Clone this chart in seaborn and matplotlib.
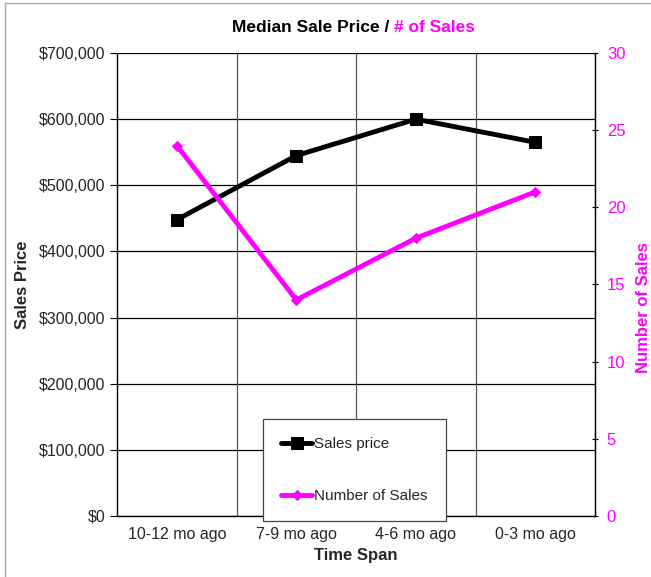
import pandas as pd
import matplotlib.pyplot as plt
import seaborn as sns
from matplotlib.patches import Rectangle

# Data
periods = ["10-12 mo ago", "7-9 mo ago", "4-6 mo ago", "0-3 mo ago"]
sales_price = [448000, 545000, 600000, 565000]
num_sales = [24, 14, 18, 21]
price_ticks = [0, 100000, 200000, 300000, 400000, 500000, 600000, 700000]
count_ticks = [0, 5, 10, 15, 20, 25, 30]

df = pd.DataFrame({"period": periods, "price": sales_price, "count": num_sales})
df["x"] = range(len(periods))

sns.set_style("white")
plt.rcParams["font.family"] = ["Liberation Sans", "DejaVu Sans"]

magenta = "#ff00ff"
fig = plt.figure(figsize=(6.51, 5.77), dpi=100)
ax = fig.add_axes([0.180, 0.106, 0.734, 0.802])

sns.lineplot(data=df, x="x", y="price", ax=ax, color="black", lw=3.5,
             marker="s", markersize=8, markeredgecolor="black",
             label="Sales price", legend=False)
ax.set_xlim(-0.5, 3.5)
ax.set_ylim(0, 700000)
ax.set_yticks(price_ticks)
ax.set_yticklabels([f"${v:,.0f}" for v in price_ticks], fontsize=11.5)
ax.set_xticks(df["x"])
ax.set_xticklabels(periods, fontsize=11.5)
ax.set_xticks([0.5, 1.5, 2.5], minor=True)
ax.tick_params(axis="x", which="major", length=0, pad=8)
ax.tick_params(axis="x", which="minor", length=5, color="black", direction="out")
ax.tick_params(axis="y", length=5, color="black", direction="out", left=True)
for v in price_ticks:
    ax.axhline(v, color="black", lw=0.9, zorder=0)
for v in [0.5, 1.5, 2.5]:
    ax.axvline(v, color="#555555", lw=0.9, zorder=0)
ax.set_xlabel("Time Span", fontsize=12, fontweight="bold", labelpad=4)
ax.set_ylabel("Sales Price", fontsize=12, fontweight="bold", labelpad=6)
for s in ax.spines.values():
    s.set_color("black")
    s.set_linewidth(1)
ax.spines["top"].set_visible(False)

ax2 = ax.twinx()
sns.lineplot(data=df, x="x", y="count", ax=ax2, color=magenta, lw=3.5,
             marker="D", markersize=5, markeredgecolor=magenta,
             label="Number of Sales", legend=False)
ax2.set_ylim(0, 30)
ax2.set_yticks(count_ticks)
ax2.set_yticklabels([str(v) for v in count_ticks], fontsize=12, color=magenta)
ax2.tick_params(axis="y", length=5, color="black", direction="inout", right=True, pad=6)
ax2.set_ylabel("Number of Sales", fontsize=12, fontweight="bold", color=magenta)
ax2.yaxis.set_label_coords(1.085, 0.45)
for s in ax2.spines.values():
    s.set_visible(False)
ax2.spines["right"].set_visible(True)
ax2.spines["right"].set_color("black")

h1, l1 = ax.get_legend_handles_labels()
h2, l2 = ax2.get_legend_handles_labels()
leg = ax2.legend(h1 + h2, l1 + l2, loc="lower left", bbox_to_anchor=(0.305, -0.012),
                 fontsize=11, frameon=True, fancybox=False, handlelength=2.0,
                 handletextpad=0.15, labelspacing=2.5, borderpad=1.2,
                 borderaxespad=0)
leg.get_frame().set_edgecolor("#444444")
leg.get_frame().set_linewidth(0.9)
leg.get_frame().set_alpha(1)

# two-colour title
fig.text(0.605, 0.952, "Median Sale Price / ", ha="right", va="center",
         fontsize=12.5, fontweight="bold", color="black")
fig.text(0.605, 0.952, "# of Sales", ha="left", va="center",
         fontsize=12.5, fontweight="bold", color=magenta)

fig.patches.append(Rectangle((0.008, -0.01), 1.1, 1.005, transform=fig.transFigure,
                             fill=False, edgecolor="#aaaaaa", lw=1))

fig.savefig("out.png", dpi=100)
